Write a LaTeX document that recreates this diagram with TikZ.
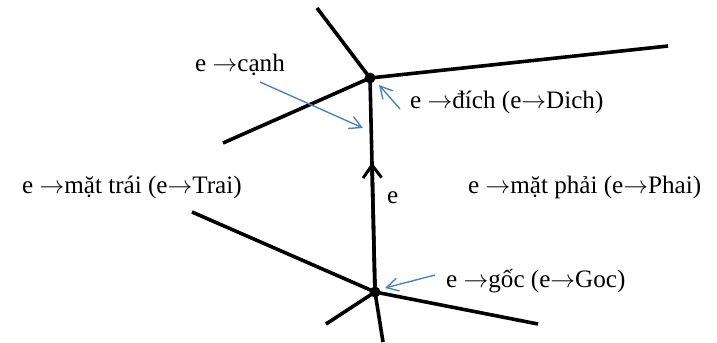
\documentclass[tikz,border=0pt]{standalone}
\usepackage{fontspec}
\setmainfont{Liberation Serif}
\usepackage{tikz}
\usetikzlibrary{arrows.meta,positioning,calc}
\definecolor{ptrblue}{HTML}{4F81BD}
\newcommand{\ra}{\ensuremath{\rightarrow}}

\begin{document}
\begin{tikzpicture}[x=1bp,y=-1bp,
  edge/.style={line width=3.6pt,black},
  ptr/.style={line width=1.4pt,draw=ptrblue,-{Straight Barb[length=4.2mm,width=4.6mm,line width=1.4pt]}},
  lbl/.style={anchor=base west,inner sep=0pt,font=\fontsize{25.2}{29}\selectfont},
  vtx/.style={circle,fill=black,inner sep=0pt,minimum size=11pt}]
  \useasboundingbox (0,0) rectangle (717,342);
  % vertices
  \node[vtx] (dich) at (370,78) {};
  \node[vtx] (goc) at (375,292) {};
  % ends of the other edges
  \coordinate (d1) at (317,8);
  \coordinate (d2) at (668,46);
  \coordinate (d3) at (223,143);
  \coordinate (g1) at (192,212);
  \coordinate (g2) at (538,324);
  \coordinate (g3) at (326,324);
  \coordinate (g4) at (383,342);
  \draw[edge] (d1)--(dich.center)--(d2); \draw[edge] (d3)--(dich.center);
  \draw[edge] (g1)--(goc.center)--(g2); \draw[edge] (g3)--(goc.center)--(g4);
  % the edge e
  \draw[edge] (goc.center)--(dich.center);
  \draw[edge,-{Straight Barb[length=4.5mm,width=6.5mm,line width=3pt]}] (goc.center)--($(goc.center)!0.605!(dich.center)$);
  % labels
  \node[lbl] (ename) at (387,203) {e};
  \node[lbl] (canh) at (195,71) {e \ra cạnh};
  \node[lbl] (dichlbl) at (410,108) {e \ra đích (e\ra Dich)};
  \node[lbl] (trai) at (22,193) {e \ra mặt trái (e\ra Trai)};
  \node[lbl] (phai) at (468,193) {e \ra mặt phải (e\ra Phai)};
  \node[lbl] (goclbl) at (446,287) {e \ra gốc (e\ra Goc)};
  % pointers
  \coordinate (pc) at (260,82);   \coordinate (pcend) at (363,128);
  \coordinate (pd) at (400,109);  \coordinate (pdend) at (379,85);
  \coordinate (pg) at (435,275);  \coordinate (pgend) at (385,288);
  \draw[ptr] (pc)--(pcend);
  \draw[ptr] (pd)--(pdend);
  \draw[ptr] (pg)--(pgend);
\end{tikzpicture}
\end{document}
